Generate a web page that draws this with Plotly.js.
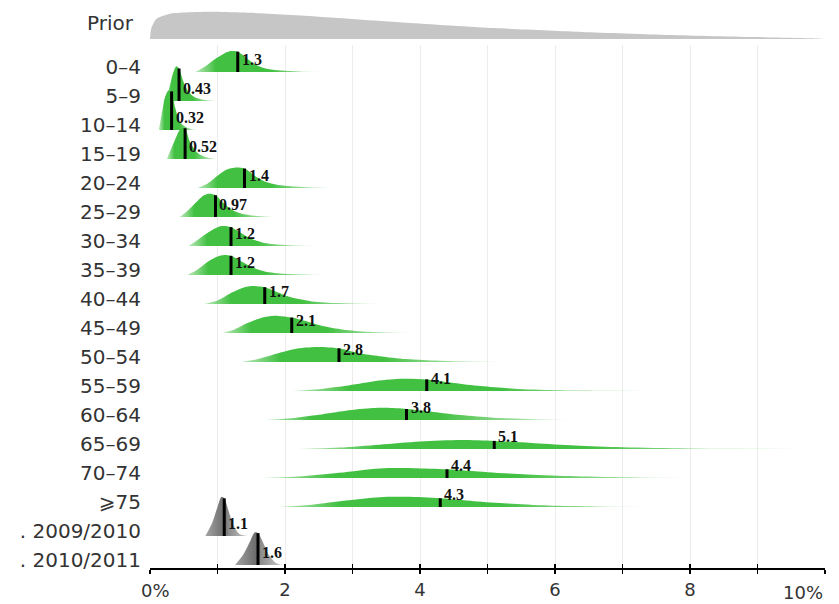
<!DOCTYPE html>
<html>
<head>
<meta charset="utf-8">
<script src="https://cdn.plot.ly/plotly-3.0.1.min.js"></script>
<style>
  html, body { margin: 0; padding: 0; background: #fff; }
  #chart { width: 839px; height: 604px; }
</style>
</head>
<body>
<div id="chart"></div>
<script>
// Row labels, top to bottom
const ageGroups = ['0–4', '5–9', '10–14', '15–19', '20–24', '25–29', '30–34', '35–39',
                   '40–44', '45–49', '50–54', '55–59', '60–64', '65–69', '70–74', '⩾75'];
const seasons = ['. 2009/2010', '. 2010/2011'];

// Posterior medians (%), one per row
const ageMedians = [1.3, 0.43, 0.32, 0.52, 1.4, 0.97, 1.2, 1.2, 1.7, 2.1, 2.8, 4.1, 3.8, 5.1, 4.4, 4.3];
const seasonMedians = [1.1, 1.6];

// Posterior density outlines: x in %, height in row units
const ageDensityX = [
  [0.67, 0.82, 0.96, 1.1, 1.2, 1.3, 1.42, 1.55, 1.7, 1.9, 2.2, 2.7],
  [0.2, 0.28, 0.34, 0.39, 0.43, 0.49, 0.57, 0.67, 0.82, 1.0],
  [0.13, 0.17, 0.22, 0.27, 0.32, 0.37, 0.45, 0.56, 0.7],
  [0.25, 0.36, 0.44, 0.49, 0.52, 0.6, 0.72, 0.87, 1.0],
  [0.7, 0.85, 1.0, 1.12, 1.25, 1.4, 1.55, 1.7, 1.9, 2.2, 2.7],
  [0.44, 0.55, 0.68, 0.8, 0.88, 0.97, 1.08, 1.2, 1.35, 1.55, 1.9],
  [0.57, 0.7, 0.85, 1.0, 1.08, 1.2, 1.35, 1.5, 1.7, 2.0, 2.45],
  [0.55, 0.7, 0.85, 1.0, 1.1, 1.2, 1.35, 1.5, 1.7, 2.0, 2.65],
  [0.8, 1.0, 1.2, 1.4, 1.5, 1.7, 1.9, 2.1, 2.4, 2.8, 3.45],
  [1.07, 1.25, 1.45, 1.7, 1.9, 2.1, 2.35, 2.6, 2.9, 3.3, 3.9],
  [1.35, 1.6, 1.9, 2.2, 2.5, 2.8, 3.1, 3.4, 3.8, 4.3, 5.2],
  [2.1, 2.5, 2.9, 3.3, 3.7, 4.1, 4.5, 4.9, 5.4, 6.0, 7.0, 7.7],
  [1.7, 2.1, 2.5, 2.9, 3.3, 3.5, 3.8, 4.2, 4.6, 5.1, 5.7, 6.4],
  [2.2, 2.8, 3.4, 4.0, 4.6, 5.1, 5.7, 6.3, 7.0, 8.0, 10.0],
  [1.65, 2.2, 2.8, 3.4, 3.9, 4.4, 5.0, 5.6, 6.3, 7.2, 8.5],
  [1.9, 2.4, 2.9, 3.4, 3.8, 4.3, 4.8, 5.3, 5.9, 6.6, 7.9]
];
const ageDensityH = [
  [0, 0.2, 0.44, 0.64, 0.72, 0.7, 0.5, 0.27, 0.13, 0.06, 0.02, 0],
  [0, 0.4, 0.95, 1.2, 1.12, 0.7, 0.32, 0.12, 0.03, 0],
  [0, 0.5, 1.1, 1.35, 1.33, 0.8, 0.25, 0.07, 0],
  [0, 0.6, 1.0, 1.08, 1.06, 0.55, 0.18, 0.04, 0],
  [0, 0.15, 0.42, 0.62, 0.7, 0.67, 0.42, 0.22, 0.1, 0.04, 0],
  [0, 0.2, 0.5, 0.75, 0.8, 0.75, 0.5, 0.27, 0.12, 0.04, 0],
  [0, 0.2, 0.45, 0.65, 0.69, 0.65, 0.45, 0.25, 0.1, 0.03, 0],
  [0, 0.18, 0.45, 0.64, 0.69, 0.66, 0.47, 0.28, 0.12, 0.04, 0],
  [0, 0.12, 0.38, 0.58, 0.62, 0.58, 0.4, 0.22, 0.09, 0.03, 0],
  [0, 0.12, 0.35, 0.55, 0.59, 0.53, 0.38, 0.22, 0.1, 0.03, 0],
  [0, 0.1, 0.3, 0.47, 0.52, 0.47, 0.3, 0.2, 0.1, 0.04, 0],
  [0, 0.06, 0.18, 0.33, 0.42, 0.4, 0.28, 0.17, 0.08, 0.03, 0.01, 0],
  [0, 0.06, 0.18, 0.32, 0.41, 0.42, 0.38, 0.28, 0.17, 0.08, 0.03, 0],
  [0, 0.05, 0.15, 0.26, 0.31, 0.28, 0.2, 0.12, 0.06, 0.02, 0],
  [0, 0.05, 0.18, 0.33, 0.34, 0.3, 0.2, 0.12, 0.06, 0.02, 0],
  [0, 0.08, 0.22, 0.34, 0.35, 0.3, 0.2, 0.12, 0.05, 0.02, 0]
];
const seasonDensityX = [
  [0.82, 0.92, 1.0, 1.06, 1.1, 1.16, 1.24, 1.32, 1.45],
  [1.26, 1.38, 1.48, 1.55, 1.6, 1.68, 1.76, 1.86, 1.95]
];
const seasonDensityH = [
  [0, 0.45, 1.0, 1.35, 1.3, 0.9, 0.35, 0.08, 0],
  [0, 0.35, 0.8, 1.12, 1.1, 0.75, 0.35, 0.08, 0]
];

// Prior density (relative height)
const priorX = [0, 0.02, 0.1, 0.3, 0.6, 0.9, 1.5, 2.5, 3.8, 5.1, 6.4, 7.7, 9.0, 9.9, 10];
const priorH = [0, 0.4, 0.75, 0.93, 0.98, 1.0, 0.96, 0.82, 0.6, 0.4, 0.26, 0.15, 0.07, 0.02, 0];

// Axis ticks
const xTickVals = [0, 1, 2, 3, 4, 5, 6, 7, 8, 9, 10];
const xTickText = ['', '', '2', '', '4', '', '6', '', '8', '', ''];

const GREEN = 'rgb(66,192,66)';
const greenScale = [[0, 'rgba(66,192,66,0.35)'], [0.15, GREEN], [0.55, GREEN], [1, 'rgba(66,192,66,0.12)']];
const grayScale = [[0, '#a4a4a4'], [0.45, '#6c6c6c'], [0.55, '#8c8c8c'], [1, '#c8c8c8']];

const rowLabels = ageGroups.concat(seasons);
const rowMedians = ageMedians.concat(seasonMedians);
const rowX = ageDensityX.concat(seasonDensityX);
const rowH = ageDensityH.concat(seasonDensityH);

const traces = [];
const annotations = [];
const medLineX = [], medLineY = [];

rowLabels.forEach((lab, i) => {
  const base = -i;
  const isSeason = i >= ageGroups.length;
  traces.push({
    type: 'scatter', mode: 'lines',
    x: rowX[i], y: rowH[i].map(h => base + h),
    xaxis: 'x', yaxis: 'y',
    fill: 'toself',
    fillcolor: isSeason ? '#888' : GREEN,
    fillgradient: { type: 'horizontal', colorscale: isSeason ? grayScale : greenScale },
    line: { width: 0, shape: 'spline', smoothing: 0.8 },
    hoverinfo: 'skip'
  });
  const k = rowX[i].indexOf(rowMedians[i]);
  medLineX.push(rowMedians[i], rowMedians[i], null);
  medLineY.push(base, base + rowH[i][k], null);
  annotations.push({
    x: rowMedians[i], y: base + 0.42, xref: 'x', yref: 'y',
    text: String(rowMedians[i]), showarrow: false,
    xanchor: 'left', yanchor: 'middle', xshift: 2,
    font: { family: 'Liberation Serif, Times New Roman, serif', size: 16, color: '#111', weight: 'bold' }
  });
});

// Median markers
traces.push({
  type: 'scatter', mode: 'lines',
  x: medLineX, y: medLineY,
  xaxis: 'x2', yaxis: 'y',
  line: { color: '#000', width: 3 },
  hoverinfo: 'skip'
});

// Prior strip
traces.push({
  type: 'scatter', mode: 'lines',
  x: priorX, y: priorH,
  xaxis: 'x3', yaxis: 'y2',
  fill: 'toself', fillcolor: '#c6c6c6',
  line: { width: 0, shape: 'spline', smoothing: 0.6 },
  hoverinfo: 'skip'
});

const sans = 'DejaVu Sans, Liberation Sans, Arial, sans-serif';

annotations.push(
  { x: 0, y: 0, xref: 'x', yref: 'paper', text: '0%', showarrow: false,
    xanchor: 'center', yanchor: 'top', xshift: 5, yshift: -10,
    font: { family: sans, size: 18, color: '#333' } },
  { x: 10, y: 0, xref: 'x', yref: 'paper', text: '10%', showarrow: false,
    xanchor: 'right', yanchor: 'top', xshift: 0, yshift: -12,
    font: { family: sans, size: 18, color: '#333' } }
);

const layout = {
  width: 839, height: 604,
  margin: { l: 150, r: 14, t: 5, b: 36 },
  paper_bgcolor: '#fff', plot_bgcolor: '#fff',
  showlegend: false, hovermode: false,
  xaxis: {
    range: [0, 10], tickvals: xTickVals, ticktext: xTickText,
    ticks: 'outside', ticklen: 4, tickwidth: 1.5, tickcolor: '#000',
    showline: true, linecolor: '#000', linewidth: 2,
    showgrid: true, gridcolor: '#ececec', gridwidth: 1, zeroline: false,
    tickfont: { family: sans, size: 18, color: '#333' },
    ticklabelstandoff: 0,
    anchor: 'y', fixedrange: true
  },
  xaxis2: {
    range: [0, 10], tickvals: xTickVals, showticklabels: false,
    ticks: 'inside', ticklen: 4, tickwidth: 1.5, tickcolor: '#000',
    showgrid: false, zeroline: false, showline: false,
    overlaying: 'x', anchor: 'y', side: 'bottom', fixedrange: true
  },
  xaxis3: {
    range: [0, 10], visible: false, anchor: 'y2', fixedrange: true
  },
  yaxis: {
    range: [-17.103, 0.931], domain: [0, 0.929],
    tickvals: rowLabels.map((_, i) => -i + 0.17), ticktext: rowLabels,
    ticks: '', showgrid: false, zeroline: false, showline: false,
    tickfont: { family: sans, size: 20, color: '#333' },
    ticklabelstandoff: 8,
    anchor: 'x', fixedrange: true
  },
  yaxis2: {
    range: [0, 1.1], domain: [0.9396, 0.9929],
    tickvals: [0.6], ticktext: ['Prior'],
    ticks: '', showgrid: false, zeroline: false, showline: false,
    tickfont: { family: sans, size: 20, color: '#333' },
    ticklabelstandoff: 16,
    anchor: 'x3', fixedrange: true
  },
  annotations: annotations
};

Plotly.newPlot('chart', traces, layout, { staticPlot: true, displayModeBar: false });
</script>
</body>
</html>
